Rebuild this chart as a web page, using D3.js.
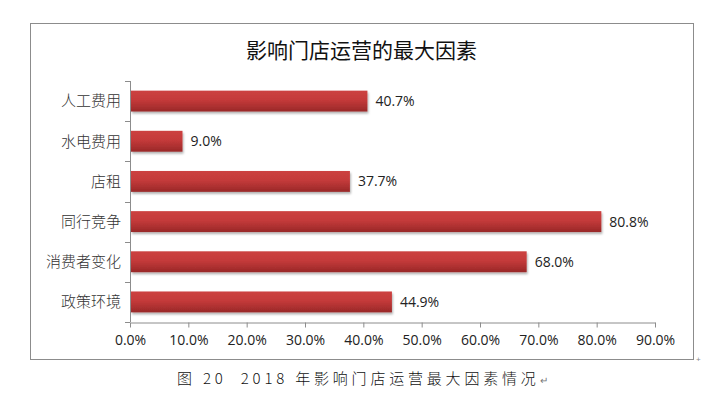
<!DOCTYPE html>
<html>
<head>
<meta charset="utf-8">
<script src="https://cdn.jsdelivr.net/npm/d3@7"></script>
<style>
  body { margin: 0; background: #fff; }
  svg { display: block; }
</style>
</head>
<body>
<svg id="chart"></svg>
<script>
const W = 725, H = 396;

// data
const categories = ["人工费用", "水电费用", "店租", "同行竞争", "消费者变化", "政策环境"];
const values = [40.7, 9.0, 37.7, 80.8, 68.0, 44.9];
const xTicks = [0, 10, 20, 30, 40, 50, 60, 70, 80, 90];
const title = "影响门店运营的最大因素";
const caption = "图 20  2018 年影响门店运营最大因素情况";

const frame = { x: 30, y: 23, w: 663, h: 336 };
const plot = { left: 130, right: 655, top: 81, bottom: 322 };

const svg = d3.select("#chart").attr("width", W).attr("height", H);

const defs = svg.append("defs");
const grad = defs.append("linearGradient").attr("id", "barGrad")
    .attr("x1", 0).attr("y1", 0).attr("x2", 0).attr("y2", 1);
grad.append("stop").attr("offset", "0%").attr("stop-color", "#cc4240");
grad.append("stop").attr("offset", "45%").attr("stop-color", "#c43a3a");
grad.append("stop").attr("offset", "100%").attr("stop-color", "#992828");

const shadow = defs.append("filter").attr("id", "shadow")
    .attr("x", "-5%").attr("y", "-20%").attr("width", "115%").attr("height", "160%");
shadow.append("feDropShadow").attr("dx", 1).attr("dy", 2).attr("stdDeviation", 1.2)
    .attr("flood-color", "#000").attr("flood-opacity", 0.3);

// outer frame
svg.append("rect")
    .attr("x", frame.x + 0.5).attr("y", frame.y + 0.5)
    .attr("width", frame.w).attr("height", frame.h)
    .attr("fill", "#fff").attr("stroke", "#8c8c8c").attr("stroke-width", 1);

svg.append("text")
    .attr("x", frame.x + frame.w / 2).attr("y", 58)
    .attr("text-anchor", "middle")
    .attr("font-family", "'Noto Sans CJK SC', sans-serif")
    .attr("font-size", 21).attr("font-weight", 400).attr("fill", "#111")
    .text(title);

let x = d3.scaleLinear().domain([0, 90]).range([plot.left, plot.right]);
let y = d3.scaleBand().domain(categories).range([plot.top, plot.bottom]).paddingInner(0.48).paddingOuter(0.24);

// bars
svg.append("g").selectAll("rect")
    .data(values)
    .enter()
    .append("rect")
    .attr("x", x(0) + 1)
    .attr("y", (d, i) => y(categories[i]))
    .attr("width", d => x(d) - x(0) - 1)
    .attr("height", y.bandwidth())
    .attr("fill", "url(#barGrad)")
    .attr("filter", "url(#shadow)");

// value labels
svg.append("g").selectAll("text")
    .data(values)
    .enter()
    .append("text")
    .attr("x", d => x(d) + 8)
    .attr("y", (d, i) => y(categories[i]) + y.bandwidth() / 2)
    .attr("dy", "0.36em")
    .attr("font-family", "'Open Sans', sans-serif")
    .attr("font-size", 14).attr("fill", "#222")
    .text(d => d.toFixed(1) + "%");

// y axis: line with ticks at band edges
const yAxis = svg.append("g").attr("stroke", "#8c8c8c").attr("stroke-width", 1);
yAxis.append("line")
    .attr("x1", plot.left + 0.5).attr("x2", plot.left + 0.5)
    .attr("y1", plot.top).attr("y2", plot.bottom);
const step = (plot.bottom - plot.top) / categories.length;
yAxis.selectAll(".yt")
    .data(d3.range(categories.length + 1))
    .enter()
    .append("line")
    .attr("x1", plot.left - 5).attr("x2", plot.left)
    .attr("y1", i => Math.round(plot.top + i * step) + 0.5)
    .attr("y2", i => Math.round(plot.top + i * step) + 0.5);

svg.append("g").selectAll("text")
    .data(categories)
    .enter()
    .append("text")
    .attr("x", plot.left - 9)
    .attr("y", d => y(d) + y.bandwidth() / 2)
    .attr("dy", "0.36em")
    .attr("text-anchor", "end")
    .attr("font-family", "'Noto Sans CJK SC', serif")
    .attr("font-size", 15).attr("font-weight", 300).attr("fill", "#333")
    .text(d => d);

// x axis
const xAxis = d3.axisBottom(x)
    .tickValues(xTicks)
    .tickSize(5)
    .tickSizeOuter(0)
    .tickFormat(d => d.toFixed(1) + "%");

const gx = svg.append("g")
    .attr("transform", `translate(0,${plot.bottom + 0.5})`)
    .call(xAxis);
gx.select(".domain").attr("stroke", "#8c8c8c");
gx.selectAll(".tick line").attr("stroke", "#8c8c8c");
gx.selectAll(".tick text")
    .attr("font-family", "'Open Sans', sans-serif")
    .attr("font-size", 14).attr("fill", "#222")
    .attr("dy", "1.0em");

// caption below the frame
const cap = svg.append("text")
    .attr("x", 177).attr("y", 384)
    .attr("xml:space", "preserve")
    .style("white-space", "pre")
    .attr("font-family", "'Noto Sans CJK SC', sans-serif")
    .attr("font-size", 15).attr("font-weight", 300).attr("fill", "#111")
    .attr("letter-spacing", 3.8)
    .text(caption);
cap.append("tspan").attr("font-size", 10).attr("fill", "#777").attr("letter-spacing", 0).text("↵");

svg.append("text")
    .attr("x", frame.x + frame.w + 3).attr("y", frame.y + frame.h + 3)
    .attr("font-family", "sans-serif").attr("font-size", 8).attr("fill", "#888")
    .text("+");
</script>
</body>
</html>
